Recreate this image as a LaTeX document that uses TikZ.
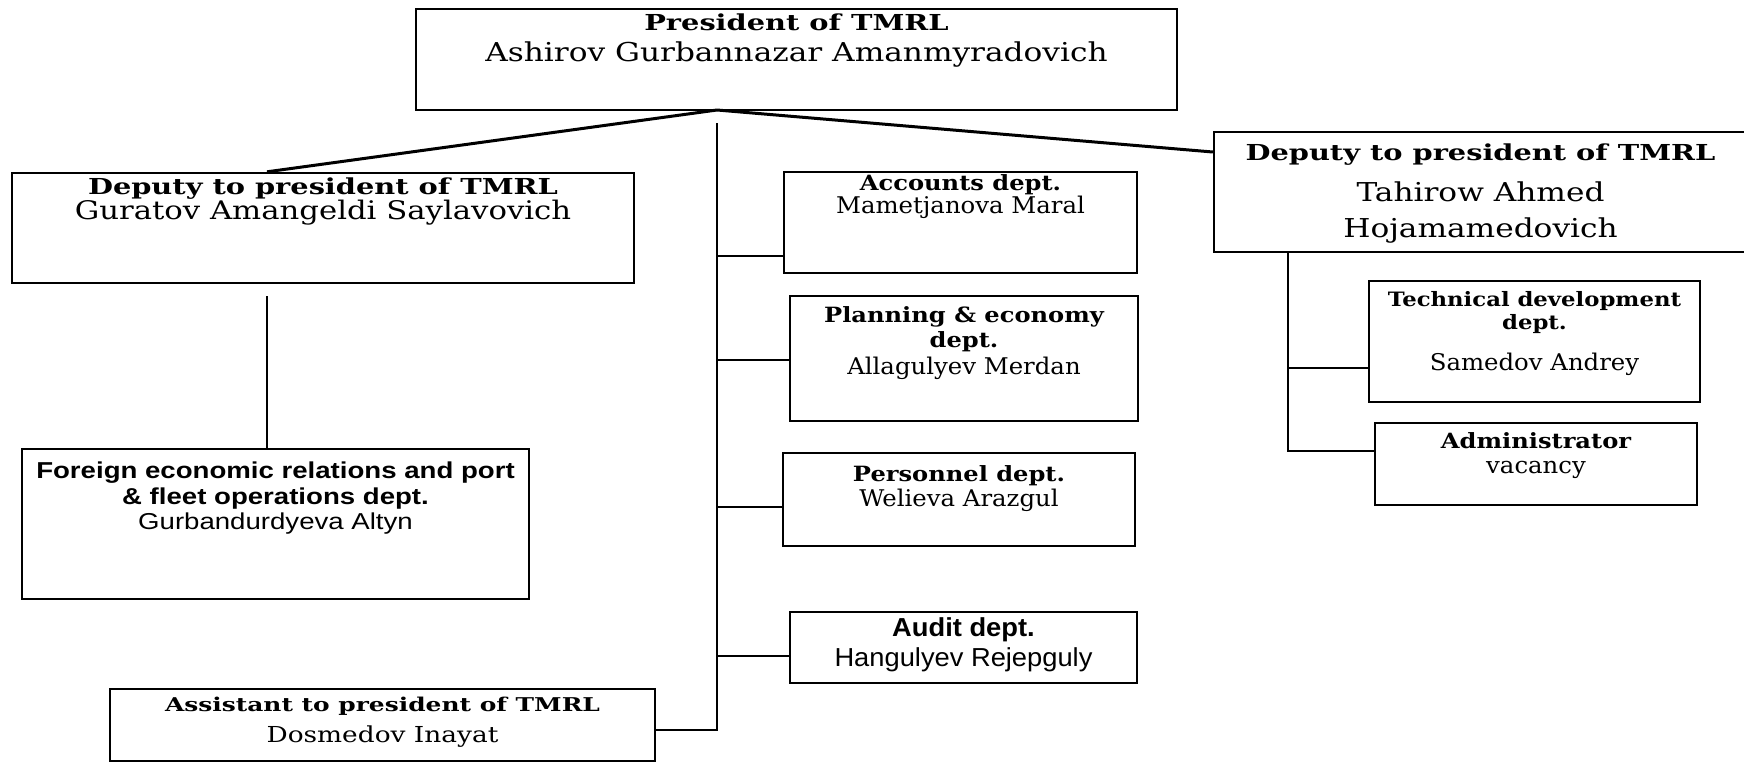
\documentclass[tikz,border=0pt]{standalone}
\usepackage{fontspec}
\usepackage{tikz}
\newfontfamily\slabwide[FakeStretch=1.31]{DejaVu Serif}
\newfontfamily\slabmid[FakeStretch=1.15]{DejaVu Serif}
\newfontfamily\namewide[FakeStretch=1.2]{DejaVu Serif}
\newfontfamily\namemid[FakeStretch=1.06]{DejaVu Serif}
\newfontfamily\gothwide[FakeStretch=1.2]{Liberation Sans}
\newfontfamily\gothmid[FakeStretch=1.05]{Liberation Sans}
% line fonts, at a given size: titles and names of big and small boxes
\newcommand\bigttl[1]{\slabwide\bfseries\fontsize{#1}{#1}\selectfont}
\newcommand\bignm[1]{\namewide\fontsize{#1}{#1}\selectfont}
\newcommand\smttl[1]{\slabmid\bfseries\fontsize{#1}{#1}\selectfont}
\newcommand\smnm[1]{\namemid\fontsize{#1}{#1}\selectfont}
\newcommand\gothttl[2]{#1\bfseries\fontsize{#2}{#2}\selectfont}
\newcommand\gothnm[2]{#1\fontsize{#2}{#2}\selectfont}
\tikzset{
% Boxes of the chart, with their text hung from the top edge
unit/.style={draw,line width=1.2pt,inner sep=0pt},
inbox/.style 2 args={anchor=north,inner sep=0pt,align=center,yshift=-#1,
  font=\fontsize{10}{#2}\selectfont},
% Connectors: heavy from the president, thin elsewhere
tie/.style={line width=1.5pt},
link/.style={line width=0.9pt}
}

\begin{document}
\begin{tikzpicture}[x=0.5pt,y=-0.5pt]
\useasboundingbox (0,0) rectangle (1744,762);
% The boxes
\node(pres)[unit,minimum width=380.5pt,minimum height=50.5pt,
  label={[inbox={2.9pt}{15.2pt}]north:{\bigttl{11}President of TMRL\\\bignm{13}Ashirov Gurbannazar Amanmyradovich}}]
  at (796.5,59.5){};
\node(depL)[unit,minimum width=311pt,minimum height=55pt,
  label={[inbox={2.9pt}{12.5pt}]north:{\bigttl{11}Deputy to president of TMRL\\\bignm{12.8}Guratov Amangeldi Saylavovich}}]
  at (323,228){};
\node(depR)[unit,minimum width=266.5pt,minimum height=60pt,
  label={[inbox={6.2pt}{17.8pt}]north:{\bigttl{11}Deputy to president of TMRL\\[2.9pt]\bignm{13}Tahirow Ahmed\\\bignm{13}Hojamamedovich}}]
  at (1480.5,192){};
\node(acc)[unit,minimum width=176.5pt,minimum height=50.5pt,
  label={[inbox={1.5pt}{11.5pt}]north:{\smttl{10.5}Accounts dept.\\\smnm{11.5}Mametjanova Maral}}]
  at (960.5,222.5){};
\node(plan)[unit,minimum width=174pt,minimum height=62.5pt,
  label={[inbox={5.9pt}{12.2pt}]north:{\smttl{10.5}Planning \& economy\\\smttl{10.5}dept.\\[1.6pt]\smnm{11.5}Allagulyev Merdan}}]
  at (964,358.5){};
\node(pers)[unit,minimum width=176pt,minimum height=46.5pt,
  label={[inbox={6.9pt}{12.1pt}]north:{\smttl{10.5}Personnel dept.\\\smnm{11.5}Welieva Arazgul}}]
  at (959,499.5){};
\node(audit)[unit,minimum width=173.5pt,minimum height=35.5pt,
  label={[inbox={3pt}{15pt}]north:{\gothttl\gothmid{13}Audit dept.\\\gothnm\gothmid{13}Hangulyev Rejepguly}}]
  at (963.5,647.5){};
\node(asst)[unit,minimum width=272.5pt,minimum height=36pt,
  label={[inbox={4.5pt}{15.6pt}]north:{\bigttl{9.5}Assistant to president of TMRL\\\bignm{11}Dosmedov Inayat}}]
  at (382.5,725){};
\node(foreign)[unit,minimum width=253.5pt,minimum height=75pt,
  label={[inbox={6.8pt}{12.8pt}]north:{\gothttl\gothwide{11.5}Foreign economic relations and port\\\gothttl\gothwide{11.5}\& fleet operations dept.\\\gothnm\gothwide{11.5}Gurbandurdyeva Altyn}}]
  at (275.5,524){};
\node(tech)[unit,minimum width=165.5pt,minimum height=60.5pt,
  label={[inbox={5.6pt}{11.6pt}]north:{\smttl{9.9}Technical development\\\smttl{9.9}dept.\\[9pt]\smnm{11.5}Samedov Andrey}}]
  at (1534.5,341.5){};
\node(admin)[unit,minimum width=161pt,minimum height=41pt,
  label={[inbox={5.3pt}{12.6pt}]north:{\smttl{10.5}Administrator\\\smnm{11.5}vacancy}}]
  at (1536,464){};
% junction points of the connectors
\coordinate(apex) at (717,110);
\coordinate(trunk) at (717,123);
\coordinate(legL) at (267,296);
\coordinate(legR) at (1288,252);
% from the president
\draw[tie](apex)--(legL|-depL.north);
\draw[tie](apex)--([yshift=20pt]depR.west);
\draw[link](trunk)|-([yshift=-2.5pt]asst.east);
\draw[link]([yshift=-16.75pt]acc.west)--([yshift=-16.75pt]acc.west-|trunk);
\draw[link]([yshift=-0.75pt]plan.west)--([yshift=-0.75pt]plan.west-|trunk);
\draw[link]([yshift=-3.75pt]pers.west)--([yshift=-3.75pt]pers.west-|trunk);
\draw[link]([yshift=-4.25pt]audit.west)--([yshift=-4.25pt]audit.west-|trunk);
% under the deputies
\draw[link](legL)--(legL|-foreign.north);
\draw[link](legR)|-([yshift=6.5pt]admin.west);
\draw[link]([yshift=-13.25pt]tech.west)--([yshift=-13.25pt]tech.west-|legR);
\end{tikzpicture}
\end{document}
